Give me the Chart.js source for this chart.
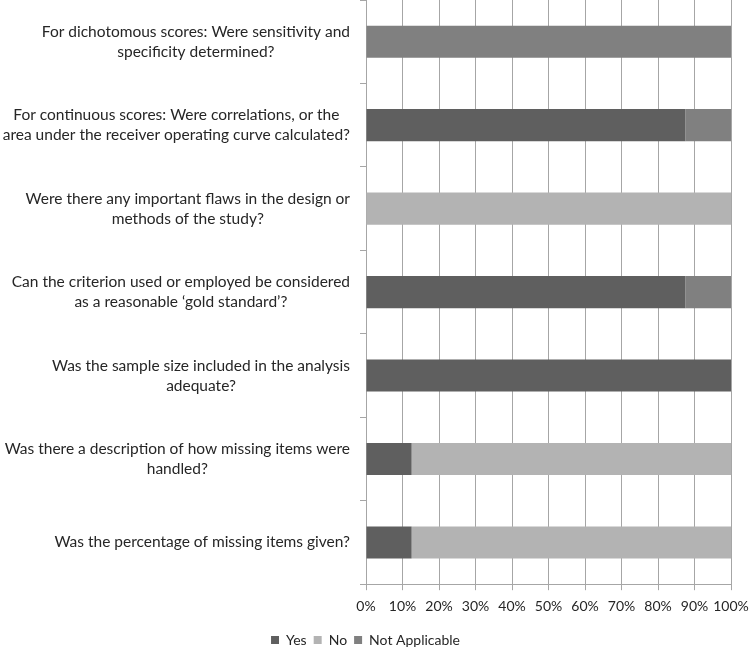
<!DOCTYPE html>
<html>
<head>
<meta charset="utf-8">
<script src="https://cdn.jsdelivr.net/npm/chart.js@4.4.1/dist/chart.umd.min.js"></script>
<style>
  html, body { margin: 0; padding: 0; background: #fff; }
  #wrap { width: 750px; height: 649px; }
</style>
</head>
<body>
<div id="wrap"><canvas id="chart"></canvas></div>
<script>
// questions, each one split into the lines shown
const questions = [
  ['For dichotomous scores: Were sensitivity and', 'specificity determined?'],
  ['For continuous scores: Were correlations, or the', 'area under the receiver operating curve calculated?'],
  ['Were there any important flaws in the design or', 'methods of the study?'],
  ['Can the criterion used or employed be considered', 'as a reasonable \u2018gold standard\u2019?'],
  ['Was the sample size included in the analysis', 'adequate?'],
  ['Was there a description of how missing items were', 'handled?'],
  ['Was the percentage of missing items given?']
];

// percent of studies
const yesValues = [0, 87.5, 0, 87.5, 100, 12.5, 12.5];
const noValues = [0, 0, 100, 0, 0, 87.5, 87.5];
const naValues = [100, 12.5, 0, 12.5, 0, 0, 0];

const xTicks = [0, 10, 20, 30, 40, 50, 60, 70, 80, 90, 100];

const FONT = 'Lato, "Open Sans", sans-serif';

// draws the question labels as centred blocks, right edge next to the axis
const questionLabels = {
  id: 'questionLabels',
  afterDraw(chart) {
    const ctx = chart.ctx;
    const y = chart.scales.y;
    const right = chart.chartArea.left - 16;
    ctx.save();
    ctx.font = '15.5px ' + FONT;
    ctx.fillStyle = '#262626';
    ctx.textAlign = 'center';
    ctx.textBaseline = 'middle';
    const lh = 20;
    questions.forEach((lines, i) => {
      const w = Math.max(...lines.map(l => ctx.measureText(l).width));
      const cx = right - w / 2;
      const cy = y.getPixelForValue(i);
      const top = cy - (lines.length - 1) * lh / 2;
      lines.forEach((l, j) => ctx.fillText(l, cx, top + j * lh));
    });
    ctx.restore();
  }
};

new Chart(document.getElementById('chart'), {
  type: 'bar',
  data: {
    labels: questions.map(q => q.join(' ')),
    datasets: [
      { label: 'Yes', data: yesValues, backgroundColor: '#5f5f5f' },
      { label: 'No', data: noValues, backgroundColor: '#b3b3b3' },
      { label: 'Not Applicable', data: naValues, backgroundColor: '#808080' }
    ]
  },
  options: {
    indexAxis: 'y',
    responsive: true,
    maintainAspectRatio: false,
    animation: false,
    layout: { padding: { top: 0, right: 19, bottom: -8, left: 0 } },
    datasets: { bar: { categoryPercentage: 1, barPercentage: 0.385 } },
    scales: {
      x: {
        stacked: true,
        min: 0,
        max: 100,
        afterBuildTicks: s => { s.ticks = xTicks.map(v => ({ value: v })); },
        afterFit: s => { s.height += 3; s.paddingRight = 0; },
        grid: { color: '#a6a6a6', lineWidth: 1, tickLength: 6 },
        border: { color: '#a6a6a6' },
        ticks: {
          callback: v => v + '%',
          color: '#262626',
          font: { family: FONT, size: 14 },
          padding: 8,
          autoSkip: false,
          maxRotation: 0
        }
      },
      y: {
        stacked: true,
        afterFit: s => { s.width = 366; },
        grid: { drawOnChartArea: false, offset: true, color: '#a6a6a6', tickLength: 6 },
        border: { color: '#a6a6a6' },
        ticks: { display: false }
      }
    },
    plugins: {
      legend: {
        position: 'bottom',
        labels: {
          boxWidth: 8,
          boxHeight: 8,
          color: '#262626',
          font: { family: FONT, size: 14 },
          padding: 7
        }
      },
      tooltip: { enabled: false }
    }
  },
  plugins: [questionLabels]
});
</script>
</body>
</html>
